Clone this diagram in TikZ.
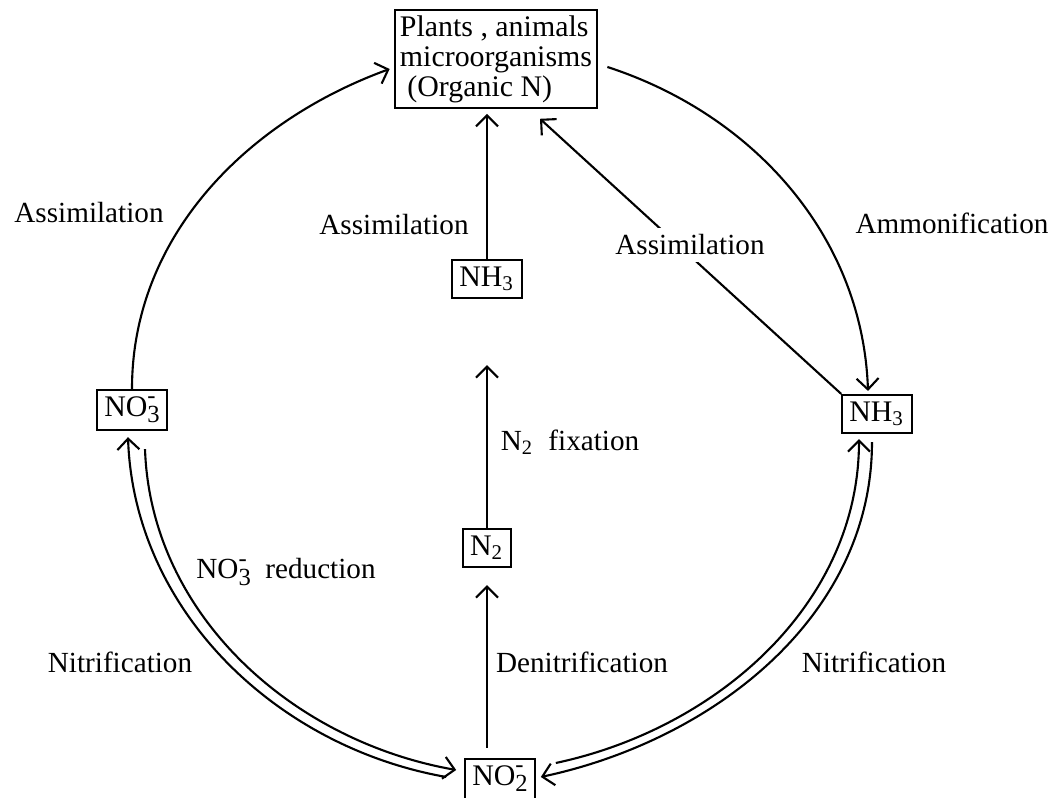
\documentclass[tikz,border=0pt]{standalone}
\usepackage{fontspec}
\setmainfont{Liberation Serif}
\usetikzlibrary{arrows.meta,calc}
\tikzset{
    box/.style = {draw, line width=0.6pt, inner sep=2pt, minimum height=0.38cm},
    lbl/.style = {font=\fontsize{8.3}{10}\selectfont},
    flow/.style = {line width=0.6pt, -{Straight Barb[length=1.1mm,width=2.2mm]}}
}
\newcommand{\nitrate}[1]{NO\rlap{\raisebox{0.95ex}{\scriptsize -}}\raisebox{-0.45ex}{\scriptsize #1}}
\begin{document}
\begin{tikzpicture}[x=0.01cm, y=0.01cm, font=\fontsize{8.5}{8.5}\selectfont]
            \useasboundingbox (0,0) rectangle (1054,798);
            \node[box, align=left, inner sep=1.5pt] (org) at (496,739)
                {Plants , animals\\microorganisms\\\ (Organic N)};
            \node[box] (no3l) at (132,388) {\nitrate{3}};
            \node[box] (nh3m) at (487,519) {NH\textsubscript{3}};
            \node[box] (n2) at (487,250) {N\textsubscript{2}};
            \node[box] (nh3r) at (877,384) {NH\textsubscript{3}};
            \node[box] (no2) at (500,19) {\nitrate{2}};

            \node[lbl] (assl) at (89,585) {Assimilation};
            \node[lbl] (assm) at (394,573) {Assimilation};
            \node[lbl] (ammo) at (952,575) {Ammonification};
            \node[lbl] (fix) at (570,356) {N\textsubscript{2}~~fixation};
            \node[lbl] (red) at (286,226) {\nitrate{3}~~reduction};
            \node[lbl] (nitl) at (120,136) {Nitrification};
            \node[lbl] (denit) at (582,136) {Denitrification};
            \node[lbl] (nitr) at (874,136) {Nitrification};

            \draw[flow] (no3l.north) to[out=90, in=200, looseness=0.95] ($(org.west)+(-4,-10)$);
            \draw[flow] ($(org.east)+(9,-8)$) to[out=-18, in=92, looseness=0.95] ($(nh3r.north)+(-9,3)$);
            \draw[flow] (nh3r.north west) -- ($(org.south)+(44,-10)$);
            \node[lbl, fill=white, inner sep=2pt] (assr) at (690,553) {Assimilation};
            \draw[flow, shorten >=0.05cm] (nh3m.north) -- (org.south -| nh3m.north);
            \draw[flow, shorten >=0.66cm] (n2.north) -- (nh3m.south);
            \draw[flow, shorten <=0.1cm, shorten >=0.17cm] (no2.north -| n2.south) -- (n2.south);

            \draw[flow] ($(no2.west)+(-18,2)$) to[out=170, in=-88, looseness=0.95] ($(no3l.south)+(-4,-6)$);
            \draw[flow] ($(no3l.south)+(13,-18)$) to[out=-88, in=170, looseness=0.95] ($(no2.west)+(-8,9)$);
            \draw[flow] ($(no2.east)+(20,16)$) to[out=12, in=-90, looseness=0.95] ($(nh3r.south)+(-18,-5)$);
            \draw[flow] ($(nh3r.south)+(-5,-8)$) to[out=-90, in=12, looseness=0.95] ($(no2.east)+(5,2)$);
        \end{tikzpicture}
\end{document}
